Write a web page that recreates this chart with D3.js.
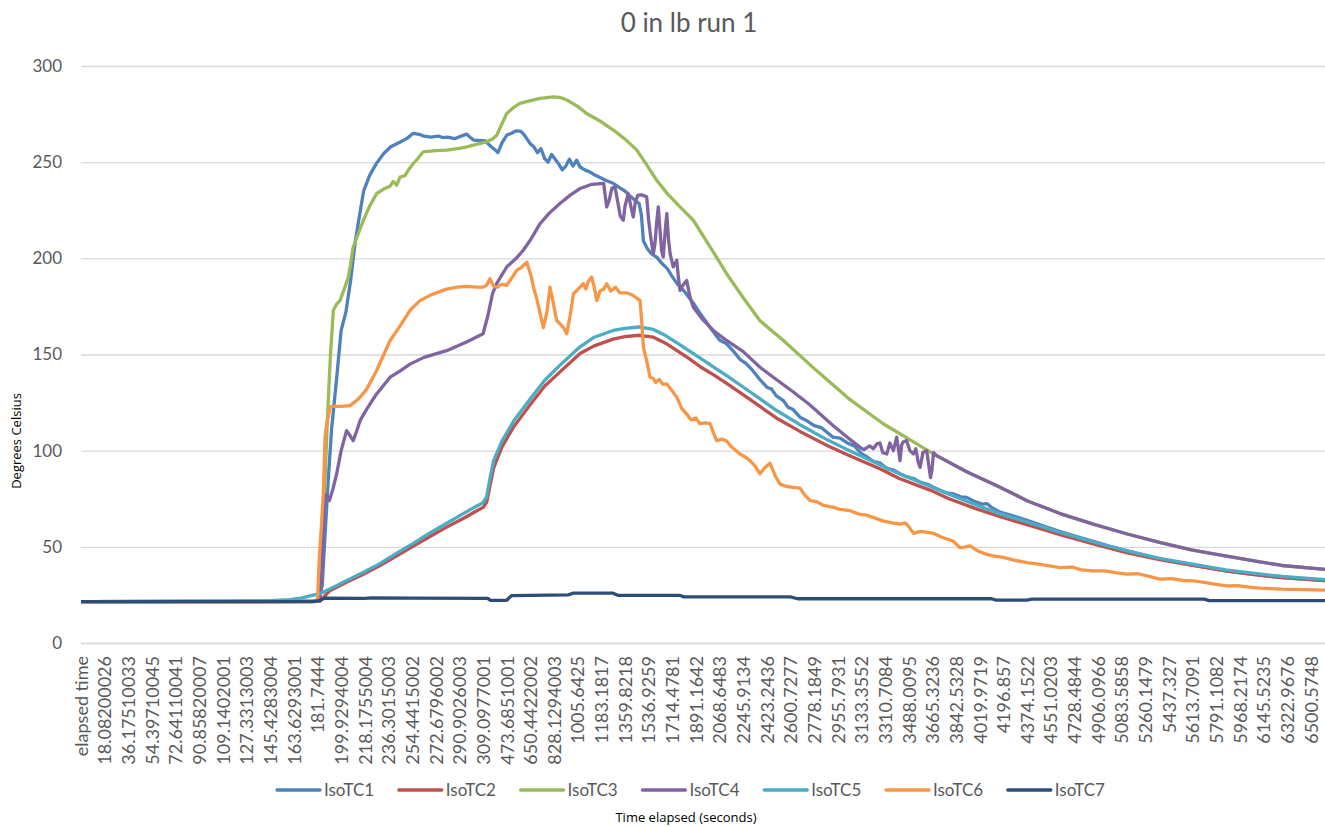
<!DOCTYPE html>
<html>
<head>
<meta charset="utf-8">
<script src="https://cdn.jsdelivr.net/npm/d3@7"></script>
<style>
  body { margin: 0; background: #fff; }
  svg { display: block; }
  .tick text { font-family: Lato, "Open Sans", sans-serif; fill: #595959; }
</style>
</head>
<body>
<svg id="chart" width="1325" height="827"></svg>
<script>
// category labels on the x axis (one label per block of samples)
var timeLabels = ['elapsed time', '18.08200026', '36.17510033', '54.39710045', '72.64110041', '90.85820007',
  '109.1402001', '127.3313003', '145.4283004', '163.6293001', '181.7444', '199.9294004', '218.1755004',
  '236.3015003', '254.4415002', '272.6796002', '290.9026003', '309.0977001', '473.6851001', '650.4422002',
  '828.1294003', '1005.6425', '1183.1817', '1359.8218', '1536.9259', '1714.4781', '1891.1642', '2068.6483',
  '2245.9134', '2423.2436', '2600.7277', '2778.1849', '2955.7931', '3133.3552', '3310.7084', '3488.0095',
  '3665.3236', '3842.5328', '4019.9719', '4196.857', '4374.1522', '4551.0203', '4728.4844', '4906.0966',
  '5083.5858', '5260.1479', '5437.327', '5613.7091', '5791.1082', '5968.2174', '6145.5235', '6322.9676',
  '6500.5748']

var yTicks = [0, 50, 100, 150, 200, 250, 300]
var seriesNames = ['IsoTC1', 'IsoTC2', 'IsoTC3', 'IsoTC4', 'IsoTC5', 'IsoTC6', 'IsoTC7']

// readings as [category position, degrees C], position counted in label blocks
var isoTC1 = [[0,21.5],[9.9,21.6],[10.05,22],[10.2,30],[10.3,52],[10.45,84],[10.6,112],[10.8,136.5],[11.0,162.5],
  [11.2,172],[11.4,188.5],[11.6,209],[11.8,224],[11.95,235],[12.2,243],[12.5,249.5],[12.8,254.5],[13.1,258],
  [13.5,260.5],[13.8,262.5],[14.05,265],[14.3,264.5],[14.5,263.5],[14.8,263],[15.1,263.6],[15.3,262.8],[15.5,263],
  [15.8,262.2],[16.0,263.2],[16.3,264.6],[16.45,263],[16.6,261.5],[17.1,261],[17.3,258.5],[17.5,256.5],[17.63,255],
  [17.8,260],[18.0,264],[18.2,265],[18.4,266.3],[18.6,266],[18.75,264],[19.0,259.5],[19.15,258],[19.3,255],
  [19.45,257],[19.6,252],[19.75,250],[19.9,254],[20.05,251.5],[20.2,249],[20.35,246],[20.5,248],[20.65,251.5],
  [20.8,248],[20.96,251],[21.1,247.5],[21.3,246],[21.5,245],[21.7,243.5],[21.95,242],[22.2,240.5],[22.5,239],
  [22.8,236.5],[23.0,235],[23.2,232.5],[23.4,230.5],[23.6,228.5],[23.7,222],[23.78,209],[23.95,205],[24.1,202.6],
  [24.35,200.5],[24.55,197.5],[24.8,194.5],[25.0,190.5],[25.2,187],[25.5,183],[25.9,176.5],[26.2,171],[26.6,164],
  [27.0,157.5],[27.3,155.5],[27.6,151.5],[27.86,147.5],[28.1,145.5],[28.4,141.7],[28.7,137],[29.0,133],[29.2,132],
  [29.4,128.5],[29.7,126],[29.9,122.5],[30.1,121.5],[30.4,117.4],[30.7,115.5],[31.0,113],[31.3,112],[31.5,110],
  [31.8,107],[32.1,106.5],[32.4,104],[32.7,102.5],[33.0,98.5],[33.2,97],[33.5,94.5],[33.8,93.5],[34.1,90.5],
  [34.35,90],[34.63,88],[34.9,86.5],[35.2,85.5],[35.5,83.5],[35.8,82.5],[36.04,81],[36.3,79.5],[36.6,78],
  [36.9,77.5],[37.2,76],[37.45,75.7],[37.8,73.5],[38.1,72.2],[38.3,72.5],[38.5,70.5],[38.86,68],[39.3,66.5],
  [40.0,63.8],[40.7,60.8],[41.4,58],[42.1,55.3],[42.8,52.8],[43.5,50.3],[44.2,48],[44.9,45.8],[45.6,43.8],
  [46.3,42],[47.0,40.5],[47.7,39],[48.4,37.5],[49.1,36.3],[49.9,35.2],[50.8,34],[51.7,33.2],[52.6,32.5]]

var isoTC2 = [[0,21.5],[10.1,21.6],[10.5,27],[11.2,31.5],[11.9,35.5],[12.6,40],[13.3,45],[14.0,50],[14.7,55],
  [15.5,60.5],[16.2,65],[16.7,68.5],[17.0,70.5],[17.15,73],[17.3,82],[17.45,91],[17.8,102],[18.3,112.5],[19.0,124],
  [19.6,133.5],[20.3,141.5],[21.1,150.5],[21.7,154.5],[22.5,158],[23.0,159.3],[23.6,160],[24.2,159],[24.7,156],
  [25.2,152],[25.7,148],[26.2,143.5],[26.8,139],[27.3,135],[28.3,126.5],[29.4,117],[30.4,110],[31.5,103],
  [32.5,97.4],[33.8,90.5],[34.6,85.5],[35.9,79.5],[36.7,75],[37.8,70],[38.9,65.5],[40.0,61.5],[41.4,56.3],
  [42.8,51.5],[44.2,47],[45.6,43.3],[47.0,40.3],[48.4,37.5],[49.9,35.2],[50.8,34],[52.6,32.5]]

var isoTC3 = [[0,21.5],[10.0,21.6],[10.15,40],[10.3,80],[10.45,125],[10.55,150.3],[10.67,173],[10.8,176],
  [10.95,178],[11.16,185],[11.3,190],[11.4,197],[11.51,205.9],[11.7,212],[11.94,219.8],[12.2,227],[12.5,233.7],
  [12.8,236],[13.07,237.5],[13.2,240],[13.35,238],[13.49,242.3],[13.7,243],[13.85,246],[14.05,249.3],[14.25,252],
  [14.47,255.4],[15.0,256],[15.46,256.3],[16.0,257.2],[16.31,258],[16.8,259.5],[17.15,260.6],[17.4,262],[17.58,264],
  [17.8,270],[18.0,275.3],[18.3,278.5],[18.56,280.6],[19.0,282],[19.41,283.2],[19.97,284],[20.3,283.5],
  [20.54,282.3],[21.0,279],[21.38,275.3],[22.0,271],[22.51,266.7],[23.0,262],[23.5,256.3],[23.9,249],[24.34,240.6],
  [24.8,233.5],[25.33,226.7],[25.89,219.8],[26.6,206],[27.3,192],[28.0,179.5],[28.71,167.5],[29.7,157.3],
  [31.11,141.5],[32.52,126.5],[33.92,114],[35.34,103.5],[36.04,98.3],[37.45,89],[38.86,81],[40.0,74],[41.4,67.3],
  [42.8,61.8],[44.2,56.8],[45.6,52.3],[47.0,48.3],[48.44,45.2],[49.85,42.2],[50.78,40.3],[52.6,38.3]]

var isoTC4 = [[0,21.5],[10.1,21.7],[10.2,40],[10.28,70],[10.35,77],[10.5,74],[10.65,80],[10.81,88],[11.0,100],
  [11.23,110.4],[11.37,108],[11.51,105.2],[11.65,110],[11.8,115.6],[12.1,122],[12.5,129.5],[13.07,138.2],
  [13.5,141.5],[13.91,145],[14.5,148.5],[15.46,152],[16.3,156.5],[17.0,160.8],[17.2,170],[17.4,181.6],[17.58,187],
  [18.0,195.5],[18.4,200],[18.7,204.2],[19.0,209.5],[19.41,218],[19.8,223.5],[20.25,228.5],[20.7,233],[21.1,236.3],
  [21.6,238.5],[22.1,239],[22.17,232],[22.23,226.7],[22.33,230],[22.45,236.5],[22.58,237],[22.7,229],[22.8,222],
  [22.93,219.8],[23.0,227],[23.14,233.7],[23.25,227],[23.35,221.5],[23.45,230],[23.55,232.8],[23.7,233],
  [23.92,232],[24.0,220],[24.1,210],[24.2,202.4],[24.27,207.6],[24.35,220],[24.41,226.7],[24.48,215],[24.55,204],
  [24.62,200.7],[24.7,214],[24.77,223.3],[24.84,210],[24.91,202.4],[25.04,195.5],[25.19,199],[25.26,190],
  [25.33,183.3],[25.45,186],[25.61,188.5],[25.75,180],[25.89,174.6],[26.3,168],[26.74,162.5],[27.3,157.3],
  [28.0,151.5],[28.71,143.4],[29.4,137],[30.12,130.5],[30.8,124],[31.81,113],[32.4,107],[32.94,101.7],
  [33.1,100.5],[33.35,102.5],[33.5,101],[33.65,103.5],[33.78,104],[33.9,99],[34.07,98.3],[34.2,104],[34.35,100],
  [34.49,107],[34.56,101],[34.63,94.8],[34.7,103],[34.76,104.5],[34.91,105.2],[35.05,100],[35.19,98.3],[35.3,101],
  [35.4,94],[35.48,91.3],[35.6,99],[35.76,100],[35.85,92],[35.92,86],[35.98,90],[36.05,99],[36.18,97.4],
  [37.45,89],[38.86,81],[40.0,74],[41.4,67.3],[42.8,61.8],[44.2,56.8],[45.6,52.3],[47.0,48.3],[48.44,45.2],
  [49.85,42.2],[50.78,40.3],[52.6,38.3]]

var isoTC5 = [[0,21.5],[6.7,21.7],[8.0,22],[8.8,22.6],[9.3,23.3],[9.6,24.2],[9.85,25],[10.1,25.6],[10.5,28],
  [11.2,32.3],[11.9,36.5],[12.6,41],[13.3,46.3],[14.0,51.4],[14.7,56.8],[15.5,62.5],[16.2,67.5],[16.7,71],
  [17.0,73],[17.15,76],[17.3,86],[17.45,95],[17.8,105],[18.3,115.5],[19.0,127],[19.6,136.5],[20.3,145],[21.1,154],
  [21.7,159],[22.5,162.5],[23.0,163.6],[23.6,164.3],[24.2,163],[24.7,160],[25.2,156],[25.7,152],[26.2,148],
  [26.8,143],[27.3,139],[28.3,130.5],[29.4,121],[30.4,113.5],[31.5,106],[32.5,100],[33.8,92.5],[34.6,88],
  [35.9,81.5],[36.7,77.4],[37.8,72],[38.9,67],[40.0,63],[41.4,57.5],[42.8,52.5],[44.2,48],[45.6,44],[47.0,41],
  [48.4,38],[49.9,35.8],[50.8,34.6],[52.6,33]]

var isoTC6 = [[0,21.5],[9.9,21.5],[10.0,23],[10.08,45],[10.17,62],[10.25,79],[10.32,107],[10.39,114],[10.46,118],
  [10.53,122.6],[10.6,123],[11.0,123],[11.37,123.4],[11.6,125.5],[11.8,127.8],[12.08,132],[12.5,141.7],[13.07,157.3],
  [13.5,165],[13.91,173],[14.33,178],[14.8,181],[15.46,184],[15.9,185],[16.31,185.4],[16.7,185],[17.01,185],
  [17.15,186],[17.29,189.4],[17.45,185.5],[17.58,185],[17.8,186.5],[18.0,186],[18.14,188.5],[18.28,191],
  [18.42,193.7],[18.6,195],[18.85,198],[18.95,194],[19.05,190],[19.13,185],[19.25,180],[19.4,172],[19.55,164],
  [19.7,172],[19.83,185],[19.95,178],[20.11,167.7],[20.25,166],[20.4,164],[20.54,160.8],[20.68,170],[20.82,181.6],
  [20.96,183.3],[21.1,185],[21.24,186.8],[21.35,184],[21.45,188],[21.59,190.3],[21.7,185],[21.81,178],[21.95,183],
  [22.1,184],[22.23,186.8],[22.4,183],[22.6,185],[22.79,182],[23.1,182],[23.35,180.7],[23.64,178],[23.72,165],
  [23.78,153.8],[23.95,145],[24.06,138.2],[24.2,137.5],[24.3,135.5],[24.45,137],[24.6,134.5],[24.77,134.7],
  [25.0,131],[25.19,127.8],[25.4,122],[25.61,119],[25.8,116],[26.0,117],[26.17,114],[26.4,114.5],[26.6,114],
  [26.75,109],[26.88,105.2],[27.1,106],[27.3,105],[27.5,102],[27.7,100],[27.86,98.3],[28.05,97],[28.29,94.8],
  [28.5,92],[28.71,88],[28.9,91],[29.13,93.5],[29.35,87],[29.56,82.6],[29.8,81.5],[30.1,80.9],[30.4,80.5],
  [30.6,77],[30.83,74],[31.1,73.5],[31.4,71.5],[31.81,70.5],[32.1,69.5],[32.52,68.8],[32.9,67],[33.2,66.5],
  [33.5,65.3],[33.9,63.5],[34.3,62.5],[34.63,61.8],[34.85,62.5],[35.0,60.5],[35.2,57],[35.5,58],[35.8,57.5],
  [36.04,57],[36.4,55],[36.87,53],[37.17,49.5],[37.4,50],[37.59,50.5],[37.9,48],[38.2,46.5],[38.56,45.3],
  [39.0,44.5],[39.5,43],[39.99,41.8],[40.5,41],[41.0,40],[41.4,39.2],[41.9,39.5],[42.3,38],[42.79,37.5],
  [43.3,37.5],[43.8,36.5],[44.23,35.8],[44.7,36],[45.2,34.5],[45.62,33.2],[46.1,33.5],[46.6,32.5],[47.02,32.3],
  [47.5,31.5],[48.0,30.5],[48.44,29.7],[48.9,29.8],[49.4,29],[49.85,28.5],[50.3,28.3],[50.78,28],[51.7,27.8],
  [52.6,27.5]]

var isoTC7 = [[0,21.5],[9.8,21.5],[10.1,22.2],[10.3,23.3],[12.0,23.2],[12.3,23.5],[14.0,23.3],[17.2,23.2],
  [17.3,22.2],[18.0,22.2],[18.2,24.6],[20.6,25],[20.8,25.9],[22.5,25.9],[22.7,24.8],[25.3,24.8],[25.5,24],
  [30.0,24],[30.3,23],[38.5,23],[38.7,22.3],[40.0,22.3],[40.2,22.8],[47.5,22.8],[47.7,22],[52.6,22]]

var seriesData = [isoTC1, isoTC2, isoTC3, isoTC4, isoTC5, isoTC6, isoTC7]
var seriesColors = ['#4F81BD', '#C0504D', '#9BBB59', '#8064A2', '#4BACC6', '#F79646', '#2C4D75']

var W = 1325, H = 827
var plot = { left: 81, right: 1325, top: 66, bottom: 643 }

var svg = d3.select('#chart')
svg.append('rect').attr('width', W).attr('height', H).attr('fill', '#fff')

var xScale = d3.scaleLinear().domain([0, 52.6]).range([plot.left, plot.right])
var yScale = d3.scaleLinear().domain([0, 300]).range([plot.bottom, plot.top])

// y axis with grid lines
var yAxis = d3.axisLeft(yScale).tickValues(yTicks).tickSize(-(plot.right - plot.left)).tickPadding(19)
var yG = svg.append('g').attr('transform', 'translate(' + plot.left + ',0)').call(yAxis)
yG.select('.domain').remove()
yG.selectAll('.tick line').attr('stroke', '#d9d9d9').attr('stroke-width', 1.3)
yG.selectAll('.tick text').style('font-size', '17px')

// x axis: category labels turned upright
var xAxis = d3.axisBottom(xScale).tickValues(d3.range(timeLabels.length))
  .tickFormat(function (i) { return timeLabels[i] }).tickSize(0).tickSizeOuter(0)
var xG = svg.append('g').attr('transform', 'translate(0,' + plot.bottom + ')').call(xAxis)
xG.select('.domain').attr('stroke', '#d9d9d9').attr('stroke-width', 1.3)
xG.selectAll('.tick text')
  .style('font-size', '18px')
  .attr('transform', 'rotate(-90)')
  .attr('text-anchor', 'end')
  .attr('x', -13).attr('y', 0).attr('dy', '0.35em')

// lines
svg.append('clipPath').attr('id', 'plotClip').append('rect')
  .attr('x', plot.left).attr('y', 0).attr('width', plot.right - plot.left).attr('height', plot.bottom + 5)

var line = d3.line().x(function (d) { return xScale(d[0]) }).y(function (d) { return yScale(d[1]) })

svg.append('g').attr('clip-path', 'url(#plotClip)')
  .selectAll('path').data(seriesData).enter().append('path')
  .attr('d', line)
  .attr('fill', 'none')
  .attr('stroke', function (d, i) { return seriesColors[i] })
  .attr('stroke-width', 3.3)
  .attr('stroke-linejoin', 'round')
  .attr('stroke-linecap', 'round')

// title
svg.append('text').attr('x', 689).attr('y', 32).attr('text-anchor', 'middle')
  .style('font-family', 'Lato, sans-serif').style('font-size', '26px').attr('fill', '#595959')
  .text('0 in lb run 1')

// axis titles
svg.append('text').attr('transform', 'translate(21,441) rotate(-90)').attr('text-anchor', 'middle')
  .style('font-family', '"Open Sans", sans-serif').style('font-size', '13px').attr('fill', '#000')
  .text('Degrees Celsius')
svg.append('text').attr('x', 686).attr('y', 822).attr('text-anchor', 'middle')
  .style('font-family', '"Open Sans", sans-serif').style('font-size', '13px').attr('fill', '#000')
  .text('Time elapsed (seconds)')

// legend
var legend = svg.append('g').attr('transform', 'translate(277,790)')
var item = legend.selectAll('g').data(seriesNames).enter().append('g')
  .attr('transform', function (d, i) { return 'translate(' + (i * 121.8) + ',0)' })
item.append('line').attr('x1', 0).attr('x2', 43).attr('y1', 0).attr('y2', 0)
  .attr('stroke', function (d, i) { return seriesColors[i] }).attr('stroke-width', 3.3)
  .attr('stroke-linecap', 'round')
item.append('text').attr('x', 47).attr('y', 0).attr('dy', '0.35em')
  .style('font-family', 'Lato, sans-serif').style('font-size', '17px').attr('fill', '#595959')
  .text(function (d) { return d })
</script>
</body>
</html>
